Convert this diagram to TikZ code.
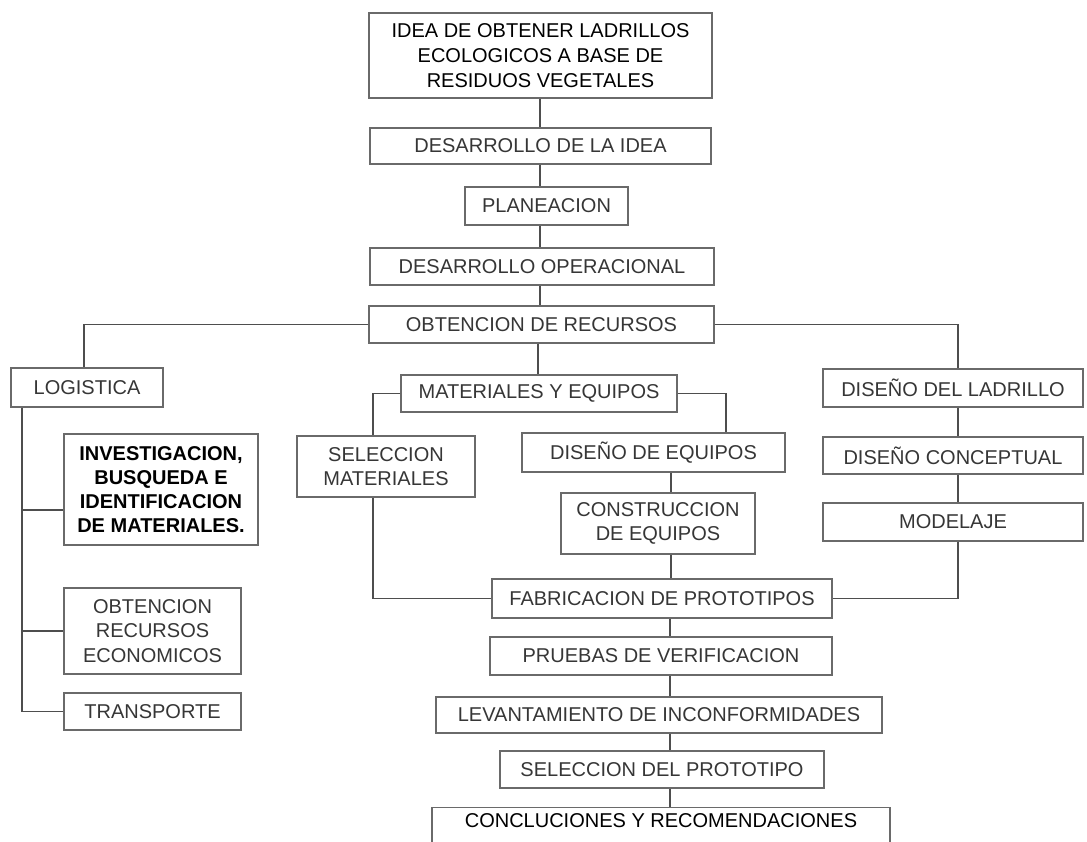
\documentclass[tikz,border=0pt]{standalone}
\usepackage{fontspec}
\setmainfont{Liberation Sans}
\begin{document}
\begin{tikzpicture}[x=1pt,y=-1pt,
  box/.style={draw=boxgray,line width=1.3pt,fill=white,inner sep=0pt,align=center,
    text=txtgray,font=\fontsize{20}{24}\selectfont},
  dark/.style={text=black},
  link/.style={draw=linegray,line width=1.8pt}]
\definecolor{boxgray}{HTML}{6A6A6A}
\definecolor{linegray}{HTML}{4E4E4E}
\definecolor{txtgray}{HTML}{363636}
\useasboundingbox[fill=white] (0,0) rectangle (1087,842);

% main column
\node[box,dark,minimum width=343,minimum height=85,font=\fontsize{20}{25}\selectfont] (top) at (540.5,55.5)
  {IDEA DE OBTENER LADRILLOS\\ECOLOGICOS A BASE DE\\RESIDUOS VEGETALES};
\node[box,minimum width=341,minimum height=36] (desa) at (540.5,146) {DESARROLLO DE LA IDEA};
\node[box,minimum width=163,minimum height=38] (plan) at (546.5,206) {PLANEACION};
\node[box,minimum width=344,minimum height=37] (oper) at (542,266.5) {DESARROLLO OPERACIONAL};
\node[box,minimum width=345,minimum height=37] (obt) at (541.5,324.5) {OBTENCION DE RECURSOS};

% logistics branch
\node[box,minimum width=152,minimum height=39] (log) at (87,387.5) {LOGISTICA};
\node[box,minimum width=194,minimum height=111,text=black,font=\bfseries\fontsize{20}{24}\selectfont] (inv) at (161,489.5)
  {INVESTIGACION,\\BUSQUEDA E\\IDENTIFICACION\\DE MATERIALES.};
\node[box,minimum width=177,minimum height=86,font=\fontsize{20}{24.5}\selectfont] (eco) at (152.5,631)
  {OBTENCION\\RECURSOS\\ECONOMICOS};
\node[box,minimum width=177,minimum height=37] (tra) at (152.5,711.5) {TRANSPORTE};

% materials and equipment branch
\node[box,minimum width=276,minimum height=37] (mat) at (539,393.5) {MATERIALES Y EQUIPOS};
\node[box,minimum width=178,minimum height=61,font=\fontsize{20}{23.5}\selectfont] (sel) at (386,466.5) {SELECCION\\MATERIALES};
\node[box,minimum width=263,minimum height=39] (deq) at (653.5,452.5) {DISEÑO DE EQUIPOS};
\node[box,minimum width=194,minimum height=61,font=\fontsize{20}{23.5}\selectfont] (con) at (658,523.5) {CONSTRUCCION\\DE EQUIPOS};

% brick design branch
\node[box,minimum width=260,minimum height=38] (lad) at (953,388) {DISEÑO DEL LADRILLO};
\node[box,minimum width=260,minimum height=37] (cpt) at (953,455.5) {DISEÑO CONCEPTUAL};
\node[box,minimum width=260,minimum height=38] (mod) at (953,522) {MODELAJE};

% prototype column
\node[box,minimum width=340,minimum height=39] (fab) at (662,598.5) {FABRICACION DE PROTOTIPOS};
\node[box,minimum width=342,minimum height=38] (pru) at (661,656) {PRUEBAS DE VERIFICACION};
\node[box,minimum width=446,minimum height=36] (lev) at (659,715) {LEVANTAMIENTO DE INCONFORMIDADES};
\node[box,minimum width=324,minimum height=37] (spr) at (662,769.5) {SELECCION DEL PROTOTIPO};
\node[box,dark,anchor=north,minimum width=458,inner ysep=6pt,text height=14pt,text depth=18pt] (cnc) at (661,807)
  {CONCLUCIONES Y RECOMENDACIONES};

% x positions of the connector runs
\coordinate (cx) at (540,0);
\coordinate (mx) at (538,0);
\coordinate (lx) at (22,0);
\coordinate (gx) at (84,0);
\coordinate (rx) at (958,0);
\coordinate (sx) at (373,0);
\coordinate (ex) at (726,0);
\coordinate (kx) at (671,0);
\coordinate (px) at (670,0);
\coordinate (b1) at (22,510);

% connectors
\path[link] (top.south -| cx) -- (desa.north -| cx);
\path[link] (desa.south -| cx) -- (plan.north -| cx);
\path[link] (plan.south -| cx) -- (oper.north -| cx);
\path[link] (oper.south -| cx) -- (obt.north -| cx);
\path[link] (obt.south -| mx) -- (mat.north -| mx);
\path[link] (obt.west) -| (log.north -| gx);
\path[link] (obt.east) -| (lad.north -| rx);
\path[link] (log.south -| lx) |- (tra.west);
\path[link] (b1) -- (b1 -| inv.west);
\path[link] (eco.west -| lx) -- (eco.west);
\path[link] (mat.west) -| (sel.north -| sx);
\path[link] (mat.east) -| (deq.north -| ex);
\path[link] (deq.south -| kx) -- (con.north -| kx);
\path[link] (con.south -| kx) -- (fab.north -| kx);
\path[link] (sel.south -| sx) |- (fab.west);
\path[link] (lad.south -| rx) -- (cpt.north -| rx);
\path[link] (cpt.south -| rx) -- (mod.north -| rx);
\path[link] (mod.south -| rx) |- (fab.east);
\path[link] (fab.south -| px) -- (pru.north -| px);
\path[link] (pru.south -| px) -- (lev.north -| px);
\path[link] (lev.south -| px) -- (spr.north -| px);
\path[link] (spr.south -| px) -- (cnc.north -| px);
\end{tikzpicture}
\end{document}
